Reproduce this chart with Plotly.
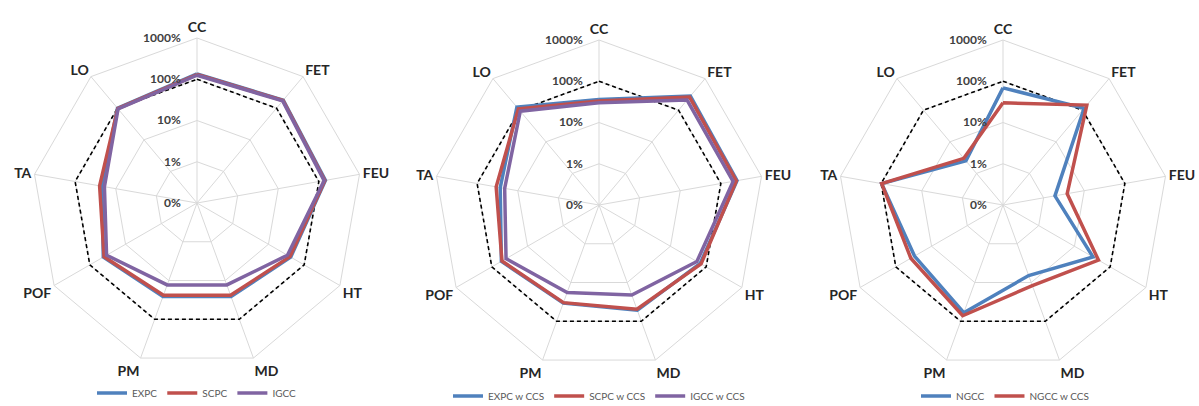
import plotly.graph_objects as go

# categories around each radar (clockwise from top)
categories = ["CC", "FET", "FEU", "HT", "MD", "PM", "POF", "TA", "LO"]

# radial ticks (log scale, shown as percent)
tick_vals = [0.001, 0.01, 0.1, 1, 10]
tick_text = ["0%", "1%", "10%", "100%", "1000%"]

# reference level (dashed)
baseline = [1, 1, 1, 1, 1, 1, 1, 1, 1]

# panel 1
expc = [1.35, 1.8, 1.45, 0.42, 0.26, 0.26, 0.42, 0.22, 1.0]
scpc = [1.3, 1.75, 1.4, 0.4, 0.24, 0.24, 0.4, 0.25, 0.97]
igcc = [1.25, 1.7, 1.35, 0.34, 0.13, 0.13, 0.34, 0.19, 0.95]

# panel 2
expc_ccs = [0.36, 2.8, 2.5, 0.68, 0.52, 0.34, 0.54, 0.27, 1.25]
scpc_ccs = [0.33, 2.6, 2.4, 0.72, 0.49, 0.33, 0.52, 0.34, 1.1]
igcc_ccs = [0.30, 2.1, 2.0, 0.55, 0.21, 0.18, 0.40, 0.21, 0.93]

# panel 3
ngcc = [0.69, 1.15, 0.019, 0.33, 0.066, 0.6, 0.3, 0.97, 0.025]
ngcc_ccs = [0.30, 1.45, 0.038, 0.47, 0.12, 0.72, 0.38, 0.97, 0.03]

BLUE = "#4F81BD"
RED = "#C0504D"
PURPLE = "#8064A2"

panels = [
    ("polar", "legend", [("EXPC", expc, BLUE), ("SCPC", scpc, RED), ("IGCC", igcc, PURPLE)]),
    ("polar2", "legend2", [("EXPC w CCS", expc_ccs, BLUE), ("SCPC w CCS", scpc_ccs, RED),
                           ("IGCC w CCS", igcc_ccs, PURPLE)]),
    ("polar3", "legend3", [("NGCC", ngcc, BLUE), ("NGCC w CCS", ngcc_ccs, RED)]),
]


def closed(v):
    return list(v) + [v[0]]


theta = closed(categories)

fig = go.Figure()
for sub, leg, series in panels:
    fig.add_trace(go.Scatterpolar(r=closed(baseline), theta=theta, mode="lines",
                                  line=dict(color="black", width=1.6, dash="4px,3px"),
                                  showlegend=False, subplot=sub, hoverinfo="skip"))
    for name, vals, col in series:
        fig.add_trace(go.Scatterpolar(r=closed(vals), theta=theta, mode="lines", name=name,
                                      line=dict(color=col, width=3.5), subplot=sub, legend=leg))

W, H = 1199, 406
centers = [(197, 203), (599, 205), (1003, 205)]
R = 165

# radial labels sit a little left of the CC spoke: invisible padding after each one
pad = "<span style='color:rgba(0,0,0,0)'>00</span>"
radial_text = ["<b>%s</b>%s" % (t, pad) for t in tick_text]


def polar_layout(cx, cy):
    return dict(
        domain=dict(x=[(cx - R) / W, (cx + R) / W], y=[(H - cy - R) / H, (H - cy + R) / H]),
        bgcolor="white",
        gridshape="linear",
        radialaxis=dict(type="log", range=[-3, 1], tickvals=tick_vals, ticktext=radial_text,
                        angle=90, tickangle=90, side="counterclockwise", showline=False, ticks="",
                        gridcolor="#d9d9d9", gridwidth=1,
                        tickfont=dict(family="Lato, Open Sans, sans-serif", size=12, color="#404040")),
        angularaxis=dict(rotation=90, direction="clockwise", gridcolor="#d9d9d9", linecolor="#d9d9d9",
                         ticks="",
                         ticktext=["<b>%s</b>" % c for c in categories], tickvals=categories,
                         tickfont=dict(family="Lato, Open Sans, sans-serif", size=14, color="#262626")),
    )


legend_style = dict(orientation="h", xanchor="center", yanchor="middle", bgcolor="rgba(0,0,0,0)",
                    font=dict(family="Lato, Open Sans, sans-serif", size=10, color="#595959"),
                    itemwidth=30, tracegroupgap=0)

fig.update_layout(
    width=W, height=H,
    margin=dict(l=0, r=0, t=0, b=0, autoexpand=False),
    paper_bgcolor="white",
    plot_bgcolor="white",
    polar=polar_layout(*centers[0]),
    polar2=polar_layout(*centers[1]),
    polar3=polar_layout(*centers[2]),
    legend=dict(x=centers[0][0] / W, y=(H - 393) / H, **legend_style),
    legend2=dict(x=centers[1][0] / W, y=(H - 396) / H, **legend_style),
    legend3=dict(x=1005 / W, y=(H - 396) / H, **legend_style),
)

# the page's default body margin would shift the whole figure
fig.write_html("out.html", config={"displayModeBar": False},
               post_script="document.body.style.margin='0px';")
